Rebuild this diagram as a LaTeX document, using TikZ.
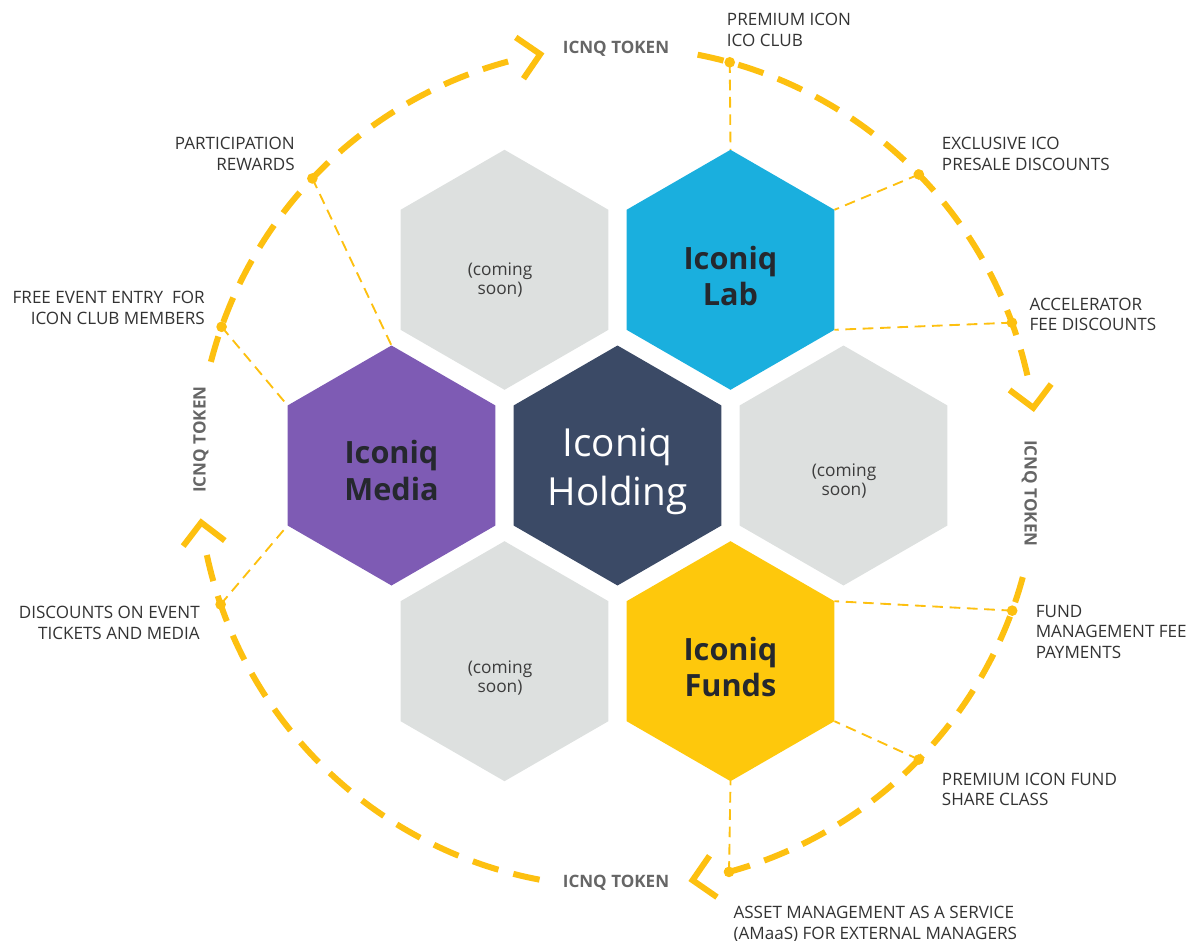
\documentclass[tikz,border=0pt]{standalone}
\usepackage{fontspec}
\setmainfont{Open Sans}

\definecolor{labblue}{HTML}{1AAFDE}
\definecolor{mediapurple}{HTML}{7E5BB4}
\definecolor{holdingnavy}{HTML}{3B4A66}
\definecolor{fundsyellow}{HTML}{FEC80C}
\definecolor{soongray}{HTML}{DDE0DF}
\definecolor{ringyellow}{HTML}{FDC010}
\definecolor{labeltext}{HTML}{333333}
\definecolor{tokengray}{HTML}{666666}
\definecolor{titletext}{HTML}{25282E}
\definecolor{soontext}{HTML}{3C3C3C}

% hexagon with pointed top: #1 name, #2 centre x, #3 centre y, #4 fill
\newcommand{\hexcell}[4]{%
  \coordinate (#1-n)  at (#2,#3-120);
  \coordinate (#1-ne) at (#2+103.92,#3-60);
  \coordinate (#1-se) at (#2+103.92,#3+60);
  \coordinate (#1-s)  at (#2,#3+120);
  \coordinate (#1-sw) at (#2-103.92,#3+60);
  \coordinate (#1-nw) at (#2-103.92,#3-60);
  \fill[#4] (#1-n) -- (#1-ne) -- (#1-se) -- (#1-s) -- (#1-sw) -- (#1-nw) -- cycle;
}

% ring geometry (pixel units, y downwards)
\def\rcx{617.5}
\def\rcy{467}
\def\rr{420}

% dashed ring arc from angle #2 towards angle #3, open chevron at #3;
% the dash pattern is stretched so the arc starts and ends on a full dash
% (ring radius 315pt, so one degree of arc is 5.49779pt)
\newcommand{\ringarc}[3]{%
  \pgfmathsetmacro\arclen{5.49779*(#3-4.5-#2)}%
  \pgfmathsetmacro\nper{round((\arclen+11.5)/31.5)}%
  \pgfmathsetmacro\dscale{\arclen/(31.5*\nper-11.5)}%
  \pgfmathsetmacro\don{20*\dscale}%
  \pgfmathsetmacro\doff{11.5*\dscale}%
  \draw[ring, dash pattern=on \don pt off \doff pt]
    plot[domain=#2:#3-4.5, samples=70] ({\rcx+\rr*cos(\x)},{\rcy+\rr*sin(\x)});
  \coordinate (#1) at ({\rcx+\rr*cos(#3)},{\rcy+\rr*sin(#3)});
  \coordinate (#1-a) at ({\rcx+\rr*cos(#3)+21*sin(#3)+21*cos(#3)},{\rcy+\rr*sin(#3)-21*cos(#3)+21*sin(#3)});
  \coordinate (#1-b) at ({\rcx+\rr*cos(#3)+21*sin(#3)-21*cos(#3)},{\rcy+\rr*sin(#3)-21*cos(#3)-21*sin(#3)});
  \draw[chevron] (#1-a) -- (#1) -- (#1-b);
}

\tikzset{
  ring/.style={draw=ringyellow, line width=4.5pt},
  chevron/.style={draw=ringyellow, line width=4.5pt, line join=miter},
  leader/.style={draw=ringyellow, line width=1.4pt, dash pattern=on 8pt off 5pt},
  ringdot/.style={circle, fill=ringyellow, inner sep=0pt, minimum size=8pt},
  lbl/.style={inner sep=0pt, text=labeltext, font=\fontsize{12.8}{15.4}\selectfont},
  token/.style={inner sep=0pt, text=tokengray, font=\fontsize{12.8}{15}\selectfont\bfseries},
  hextitle/.style={inner sep=0pt, align=center, text=titletext,
    font=\fontsize{23}{27.5}\selectfont\bfseries},
  soon/.style={inner sep=0pt, align=center, text=soontext,
    font=\fontsize{13}{14.3}\selectfont}
}

\begin{document}
\begin{tikzpicture}[x=0.75pt, y=-0.75pt]
\useasboundingbox (0,0) rectangle (1199,941);

% honeycomb
\hexcell{holding}{617.5}{465.5}{holdingnavy}
\hexcell{lab}{730.5}{269.8}{labblue}
\hexcell{soonR}{843.5}{465.5}{soongray}
\hexcell{funds}{730.5}{661.2}{fundsyellow}
\hexcell{soonB}{504.5}{661.2}{soongray}
\hexcell{media}{391.5}{465.5}{mediapurple}
\hexcell{soonT}{504.5}{269.8}{soongray}

\node[inner sep=0pt, align=center, text=white, font=\fontsize{29}{36.75}\selectfont]
  (holdingT) at (617.5,471) {Iconiq\\Holding};
\node[hextitle] (labT)   at (730.5,276)   {Iconiq\\Lab};
\node[hextitle] (mediaT) at (391.5,470.5) {Iconiq\\Media};
\node[hextitle] (fundsT) at (730.5,667)   {Iconiq\\Funds};
\node[soon] (soonTT) at (500,280) {(coming\\soon)};
\node[soon] (soonRT) at (844,481) {(coming\\soon)};
\node[soon] (soonBT) at (500,678) {(coming\\soon)};

% token ring, four arcs running clockwise
\ringarc{tipTop}{194.5}{259.4}
\ringarc{tipRight}{281}{351.9}
\ringarc{tipBottom}{15.2}{79.7}
\ringarc{tipLeft}{100.7}{172.4}

\node[token, anchor=base] (tokTop) at (616,54) {ICNQ TOKEN};
\node[token, anchor=base, rotate=-90] (tokRight) at (1024.5,493.5) {ICNQ TOKEN};
\node[token, anchor=base, rotate=90] (tokLeft) at (205.5,439.5) {ICNQ TOKEN};
\node[token, anchor=base] (tokBottom) at (616,887) {ICNQ TOKEN};

% benefit points on the ring
\node[ringdot] (dIcoClub) at ({\rcx+\rr*cos(-74.5)},{\rcy+\rr*sin(-74.5)}) {};
\node[ringdot] (dPresale) at ({\rcx+\rr*cos(-44.15)},{\rcy+\rr*sin(-44.15)}) {};
\node[ringdot] (dAccel)   at ({\rcx+\rr*cos(-20.1)},{\rcy+\rr*sin(-20.1)}) {};
\node[ringdot] (dFundFee) at ({\rcx+\rr*cos(20)},{\rcy+\rr*sin(20)}) {};
\node[ringdot] (dShare)   at ({\rcx+\rr*cos(44.15)},{\rcy+\rr*sin(44.15)}) {};
\node[ringdot] (dAmaas)   at ({\rcx+\rr*cos(74.6)},{\rcy+\rr*sin(74.6)}) {};
\node[ringdot] (dTickets) at ({\rcx+\rr*cos(160.9)},{\rcy+\rr*sin(160.9)}) {};
\node[ringdot] (dEntry)   at ({\rcx+\rr*cos(199.5)},{\rcy+\rr*sin(199.5)}) {};
\node[ringdot] (dRewards) at ({\rcx+\rr*cos(223.4)},{\rcy+\rr*sin(223.4)}) {};

% leaders from the ring to the companies
\draw[leader] (dIcoClub.center) -- (lab-n);
\draw[leader] (dPresale.center) -- (lab-ne);
\draw[leader] (dAccel.center)   -- (lab-se);
\draw[leader] (dFundFee.center) -- (funds-ne);
\draw[leader] (dShare.center)   -- (funds-se);
\draw[leader] (dAmaas.center)   -- (funds-s);
\draw[leader] (dTickets.center) -- (media-sw);
\draw[leader] (dEntry.center)   -- (media-nw);
\draw[leader] (dRewards.center) -- (media-n);

% benefit labels
\node[lbl, anchor=north west, align=left] (tIcoClub) at (726.7,13.3) {PREMIUM ICON\\ICO CLUB};
\node[lbl, anchor=north west, align=left] (tPresale) at (941.7,137) {EXCLUSIVE ICO\\PRESALE DISCOUNTS};
\node[lbl, anchor=north west, align=left] (tAccel) at (1029.3,297.7) {ACCELERATOR\\FEE DISCOUNTS};
\node[lbl, anchor=north west, align=left] (tFundFee) at (1035.5,605) {FUND\\MANAGEMENT FEE\\PAYMENTS};
\node[lbl, anchor=north west, align=left] (tShare) at (941.7,772.7) {PREMIUM ICON FUND\\SHARE CLASS};
\node[lbl, anchor=north west, align=left] (tAmaas) at (733.3,906) {ASSET MANAGEMENT AS A SERVICE\\(AMaaS) FOR EXTERNAL MANAGERS};
\node[lbl, anchor=north east, align=right] (tTickets) at (200,606) {DISCOUNTS ON EVENT\\TICKETS AND MEDIA};
\node[lbl, anchor=north east, align=right] (tEntry) at (205,291) {FREE EVENT ENTRY~~FOR\\ICON CLUB MEMBERS};
\node[lbl, anchor=north east, align=right] (tRewards) at (295,137.3) {PARTICIPATION\\REWARDS};
\end{tikzpicture}
\end{document}
